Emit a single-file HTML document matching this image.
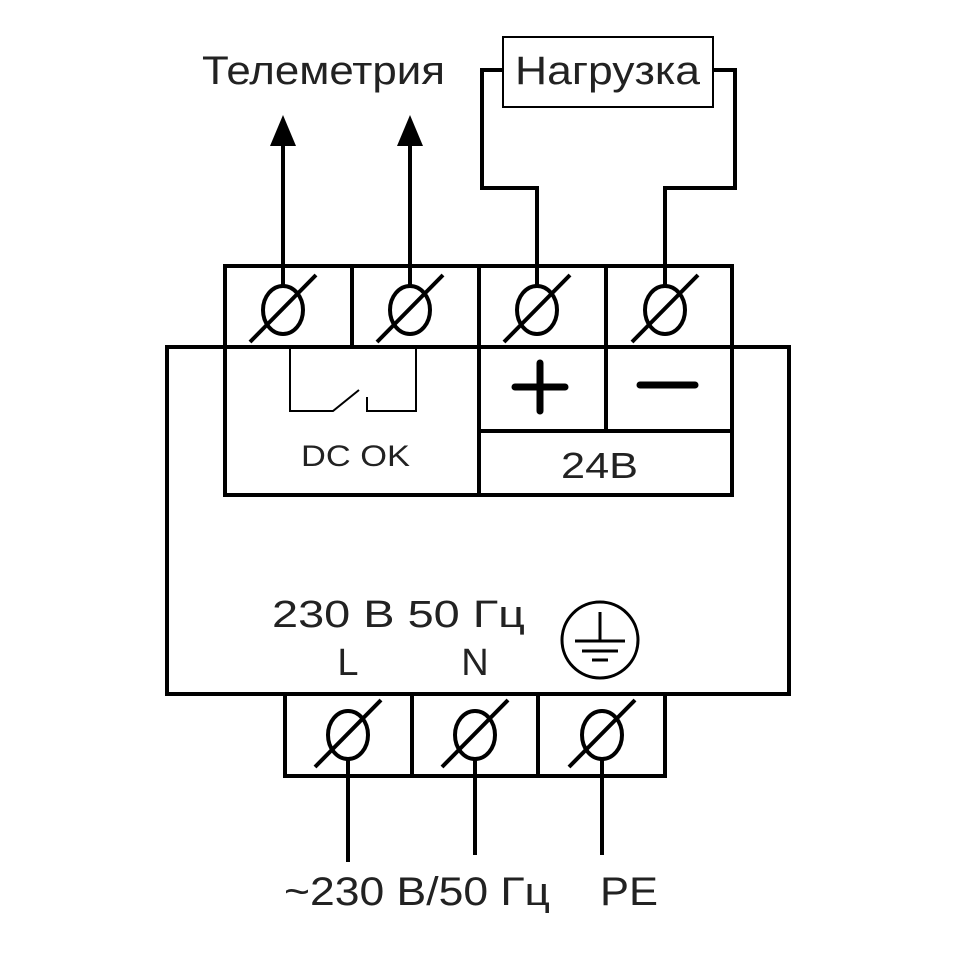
<!DOCTYPE html>
<html><head><meta charset="utf-8"><style>body{margin:0;background:#fff}</style></head><body>
<svg width="960" height="960" viewBox="0 0 960 960" xmlns="http://www.w3.org/2000/svg" font-family="Liberation Sans, sans-serif">
<rect width="960" height="960" fill="#fff"/>
<g stroke="#000" stroke-width="4" fill="none">
<rect x="225" y="266" width="507" height="81"/>
<line x1="352" y1="266" x2="352" y2="347"/>
<line x1="479" y1="266" x2="479" y2="347"/>
<line x1="606" y1="266" x2="606" y2="347"/>
<rect x="167" y="347" width="622" height="347"/>
<rect x="225" y="347" width="254" height="148"/>
<rect x="479" y="347" width="253" height="148"/>
<line x1="479" y1="431" x2="732" y2="431"/>
<line x1="606" y1="347" x2="606" y2="431"/>
<rect x="285" y="694" width="380" height="82"/>
<line x1="412" y1="694" x2="412" y2="776"/>
<line x1="538" y1="694" x2="538" y2="776"/>
<line x1="283" y1="286" x2="283" y2="145"/>
<line x1="410" y1="286" x2="410" y2="145"/>
<polyline points="537,286 537,188 482,188 482,70 503,70"/>
<polyline points="665,286 665,188 735,188 735,70 713,70"/>
<line x1="348" y1="759" x2="348" y2="862"/>
<line x1="475" y1="759" x2="475" y2="855"/>
<line x1="602" y1="759" x2="602" y2="855"/>
</g>
<g fill="#000">
<polygon points="283,115 270,146 296,146"/>
<polygon points="410,115 397,146 423,146"/>
</g>
<rect x="503" y="37" width="210" height="70" fill="none" stroke="#000" stroke-width="2"/>
<g stroke="#000" stroke-width="4" fill="none">
<g transform="translate(283,310)"><ellipse rx="20" ry="24"/><line x1="-33" y1="32" x2="33" y2="-35"/></g>
<g transform="translate(410,310)"><ellipse rx="20" ry="24"/><line x1="-33" y1="32" x2="33" y2="-35"/></g>
<g transform="translate(537,310)"><ellipse rx="20" ry="24"/><line x1="-33" y1="32" x2="33" y2="-35"/></g>
<g transform="translate(665,310)"><ellipse rx="20" ry="24"/><line x1="-33" y1="32" x2="33" y2="-35"/></g>
<g transform="translate(348,735)"><ellipse rx="20" ry="24"/><line x1="-33" y1="32" x2="33" y2="-35"/></g>
<g transform="translate(475,735)"><ellipse rx="20" ry="24"/><line x1="-33" y1="32" x2="33" y2="-35"/></g>
<g transform="translate(602,735)"><ellipse rx="20" ry="24"/><line x1="-33" y1="32" x2="33" y2="-35"/></g>
</g>
<g stroke="#000" stroke-width="2" fill="none">
<polyline points="290,347 290,411 333,411 359,390"/>
<polyline points="367,397 367,411 416,411 416,347"/>
</g>
<g stroke="#000" stroke-width="7" stroke-linecap="round">
<line x1="515" y1="387" x2="565" y2="387"/><line x1="540" y1="363" x2="540" y2="411"/>
<line x1="640" y1="385" x2="695" y2="385"/>
</g>
<g stroke="#000" stroke-width="3" fill="none">
<circle cx="600" cy="640" r="38"/>
<line x1="600" y1="612" x2="600" y2="641"/>
<line x1="575" y1="641" x2="625" y2="641"/>
<line x1="582" y1="651" x2="618" y2="651"/>
<line x1="592" y1="660" x2="608" y2="660"/>
</g>
<g fill="#222">
<text x="202" y="84" font-size="40" textLength="243" lengthAdjust="spacingAndGlyphs">Телеметрия</text>
<text x="515" y="84" font-size="40" textLength="185" lengthAdjust="spacingAndGlyphs">Нагрузка</text>
<text x="301" y="466" font-size="30" textLength="109" lengthAdjust="spacingAndGlyphs">DC OK</text>
<text x="561" y="478" font-size="36" textLength="77" lengthAdjust="spacingAndGlyphs">24В</text>
<text x="272" y="627" font-size="38" textLength="253" lengthAdjust="spacingAndGlyphs">230 В  50 Гц</text>
<text x="348" y="675" font-size="38" text-anchor="middle">L</text>
<text x="475" y="675" font-size="38" text-anchor="middle">N</text>
<text x="284" y="905" font-size="40" textLength="266" lengthAdjust="spacingAndGlyphs">~230 В/50 Гц</text>
<text x="600" y="905" font-size="40" textLength="58" lengthAdjust="spacingAndGlyphs">PE</text>
</g>
</svg>
</body></html>
